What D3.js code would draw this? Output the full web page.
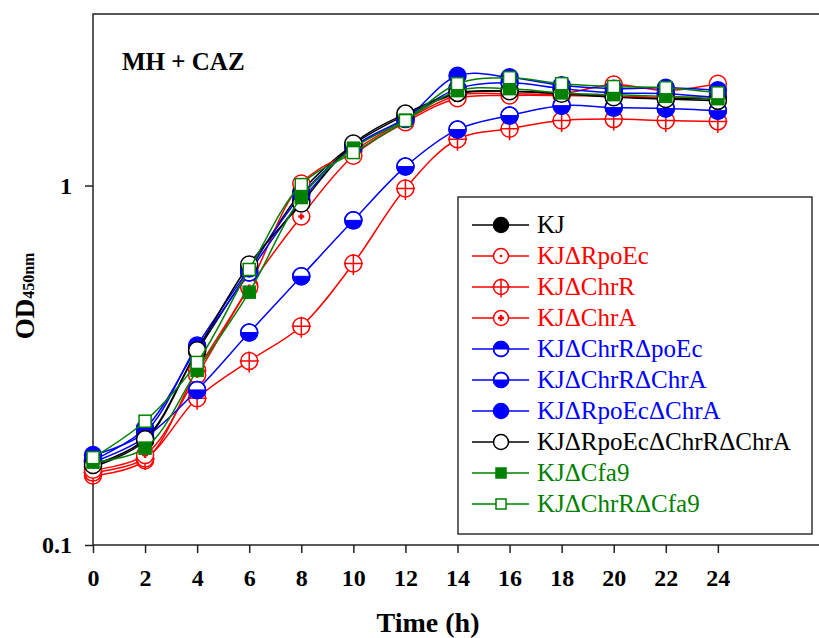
<!DOCTYPE html>
<html>
<head>
<meta charset="utf-8">
<script src="https://cdn.jsdelivr.net/npm/d3@7"></script>
<style>
  body { margin: 0; background: #fff; }
  svg { display: block; }
  text { font-family: "Liberation Serif", "Times New Roman", "Tinos", "DejaVu Serif", serif; }
</style>
</head>
<body>
<div id="chart"></div>
<script>
// sampling times (h)
var hours = [0, 2, 4, 6, 8, 10, 12, 14, 16, 18, 20, 22, 24];
var xTicks = [0, 2, 4, 6, 8, 10, 12, 14, 16, 18, 20, 22, 24];
var yTicks = [0.1, 1];

// OD450 readings, one array per strain
var odKJ            = [0.165, 0.195, 0.345, 0.580, 0.960, 1.300, 1.570, 1.800, 1.830, 1.800, 1.770, 1.750, 1.740];
var odRpoEc         = [0.156, 0.172, 0.306, 0.527, 1.013, 1.250, 1.520, 1.780, 1.800, 1.800, 1.910, 1.840, 1.920];
var odChrR          = [0.159, 0.174, 0.256, 0.325, 0.406, 0.607, 0.981, 1.345, 1.439, 1.516, 1.530, 1.516, 1.508];
var odChrA          = [0.162, 0.178, 0.297, 0.520, 0.820, 1.210, 1.500, 1.750, 1.780, 1.780, 1.770, 1.760, 1.770];
var odChrRpoEc      = [0.172, 0.211, 0.353, 0.573, 0.908, 1.283, 1.535, 1.860, 1.930, 1.860, 1.810, 1.800, 1.755];
var odChrRChrA      = [0.170, 0.199, 0.270, 0.390, 0.559, 0.800, 1.129, 1.431, 1.565, 1.668, 1.647, 1.637, 1.615];
var odRpoEcChrA     = [0.178, 0.206, 0.359, 0.588, 0.940, 1.280, 1.530, 2.020, 2.000, 1.900, 1.860, 1.870, 1.840];
var odRpoEcChrRChrA = [0.167, 0.197, 0.348, 0.603, 0.891, 1.308, 1.585, 1.810, 1.830, 1.800, 1.760, 1.740, 1.720];
var odCfa9          = [0.170, 0.186, 0.306, 0.505, 0.926, 1.270, 1.520, 1.836, 1.860, 1.810, 1.790, 1.770, 1.744];
var odChrRCfa9      = [0.175, 0.221, 0.322, 0.584, 1.006, 1.235, 1.516, 1.920, 1.995, 1.920, 1.885, 1.870, 1.810];

var strains = [
  { name: "KJ",                 color: "#000000", symbol: "filled",  values: odKJ },
  { name: "KJΔRpoEc",           color: "#ff0000", symbol: "dot",     values: odRpoEc },
  { name: "KJΔChrR",            color: "#ff0000", symbol: "cross",   values: odChrR },
  { name: "KJΔChrA",            color: "#ff0000", symbol: "plus",    values: odChrA },
  { name: "KJΔChrRΔpoEc",       color: "#0000ff", symbol: "topHalf", values: odChrRpoEc },
  { name: "KJΔChrRΔChrA",       color: "#0000ff", symbol: "botHalf", values: odChrRChrA },
  { name: "KJΔRpoEcΔChrA",      color: "#0000ff", symbol: "filled",  values: odRpoEcChrA },
  { name: "KJΔRpoEcΔChrRΔChrA", color: "#000000", symbol: "open",    values: odRpoEcChrRChrA },
  { name: "KJΔCfa9",            color: "#008000", symbol: "fsquare", values: odCfa9 },
  { name: "KJΔChrRΔCfa9",       color: "#008000", symbol: "osquare", values: odChrRCfa9 }
];

var width = 819, height = 638;
var svg = d3.select("#chart").append("svg")
  .attr("width", width)
  .attr("height", height);

var x = d3.scaleLinear().domain([0, 28]).range([93, 822]);
var y = d3.scaleLog().domain([0.1, 3]).range([545, 14]);

// frame (top + right run off the page)
svg.append("rect")
  .attr("x", x(0)).attr("y", y(3))
  .attr("width", 760).attr("height", y(0.1) - y(3))
  .attr("fill", "none").attr("stroke", "#222").attr("stroke-width", 1.5);

var xAxis = svg.append("g")
  .attr("transform", "translate(0," + y(0.1) + ")")
  .call(d3.axisBottom(x).tickValues(xTicks).tickSize(8).tickPadding(16).tickFormat(d3.format("d")));
xAxis.select(".domain").remove();
xAxis.selectAll("line").attr("stroke", "#222").attr("stroke-width", 1.5);
xAxis.selectAll("text").attr("font-size", 24).attr("font-weight", "bold")
  .attr("fill", "#000").attr("font-family", null);

var yAxis = svg.append("g")
  .attr("transform", "translate(" + x(0) + ",0)")
  .call(d3.axisLeft(y).tickValues(yTicks).tickSize(8).tickPadding(13).tickFormat(function(d) { return d < 1 ? "0.1" : "1"; }));
yAxis.select(".domain").remove();
yAxis.selectAll("line").attr("stroke", "#222").attr("stroke-width", 1.5);
yAxis.selectAll("text").attr("font-size", 24).attr("font-weight", "bold")
  .attr("fill", "#000").attr("font-family", null);

// axis titles
svg.append("text")
  .attr("x", 428).attr("y", 632)
  .attr("text-anchor", "middle")
  .attr("font-size", 28).attr("font-weight", "bold")
  .text("Time (h)");

var yt = svg.append("text")
  .attr("transform", "translate(34,296) rotate(-90)")
  .attr("text-anchor", "middle")
  .attr("font-weight", "bold");
yt.append("tspan").attr("font-size", 27).text("OD");
yt.append("tspan").attr("font-size", 16).text("450nm");

svg.append("text")
  .attr("x", 122).attr("y", 70)
  .attr("font-size", 25).attr("font-weight", "bold")
  .text("MH + CAZ");

function drawSymbol(g, s, r, sq) {
  var c = s.color;
  if (s.symbol === "fsquare" || s.symbol === "osquare") {
    g.append("rect")
      .attr("x", -sq / 2).attr("y", -sq / 2)
      .attr("width", sq).attr("height", sq)
      .attr("fill", s.symbol === "fsquare" ? c : "#fff")
      .attr("stroke", c).attr("stroke-width", 1.5);
    return;
  }
  g.append("circle").attr("r", r)
    .attr("fill", s.symbol === "filled" ? c : "#fff")
    .attr("stroke", c).attr("stroke-width", 1.5);
  if (s.symbol === "topHalf") {
    g.append("path").attr("d", d3.arc()({ innerRadius: 0, outerRadius: r, startAngle: -Math.PI / 2, endAngle: Math.PI / 2 }))
      .attr("fill", c);
  }
  if (s.symbol === "botHalf") {
    g.append("path").attr("d", d3.arc()({ innerRadius: 0, outerRadius: r, startAngle: Math.PI / 2, endAngle: 3 * Math.PI / 2 }))
      .attr("fill", c);
  }
  if (s.symbol === "topHalf" || s.symbol === "botHalf") {
    g.append("line").attr("x1", -r).attr("x2", r).attr("stroke", c).attr("stroke-width", 1);
    g.append("circle").attr("r", r).attr("fill", "none").attr("stroke", c).attr("stroke-width", 1.5);
  }
  if (s.symbol === "dot") {
    g.append("circle").attr("r", 1.3).attr("fill", c);
  }
  if (s.symbol === "cross") {
    g.append("path").attr("d", "M" + (-r - 1) + ",0H" + (r + 1) + "M0," + (-r - 1) + "V" + (r + 3))
      .attr("stroke", c).attr("stroke-width", 1.5);
  }
  if (s.symbol === "plus") {
    g.append("path").attr("d", "M-3,0H3M0,-3V3")
      .attr("stroke", c).attr("stroke-width", 2.5);
  }
}

var line = d3.line()
  .x(function(d, i) { return x(hours[i]); })
  .y(function(d) { return y(d); })
  .curve(d3.curveCatmullRom.alpha(0.5));

strains.forEach(function(s) {
  var g = svg.append("g");
  g.append("path")
    .attr("d", line(s.values))
    .attr("fill", "none")
    .attr("stroke", s.color)
    .attr("stroke-width", 1.5);
  s.values.forEach(function(v, i) {
    var m = g.append("g").attr("transform", "translate(" + x(hours[i]) + "," + y(v) + ")");
    drawSymbol(m, s, 8.5, 12);
  });
});

// legend
var lg = svg.append("g");
lg.append("rect")
  .attr("x", 458).attr("y", 197).attr("width", 354).attr("height", 337)
  .attr("fill", "#fff").attr("stroke", "#333").attr("stroke-width", 1.5);

strains.forEach(function(s, i) {
  var cy = 225 + i * 31;
  var row = lg.append("g");
  row.append("line")
    .attr("x1", 472).attr("x2", 529).attr("y1", cy).attr("y2", cy)
    .attr("stroke", s.color).attr("stroke-width", 1.5);
  var m = row.append("g").attr("transform", "translate(501," + cy + ")");
  drawSymbol(m, s, 7.5, 10);
  row.append("text")
    .attr("x", 537).attr("y", cy + 8)
    .attr("font-size", 25)
    .attr("fill", s.color)
    .text(s.name);
});
</script>
</body>
</html>
